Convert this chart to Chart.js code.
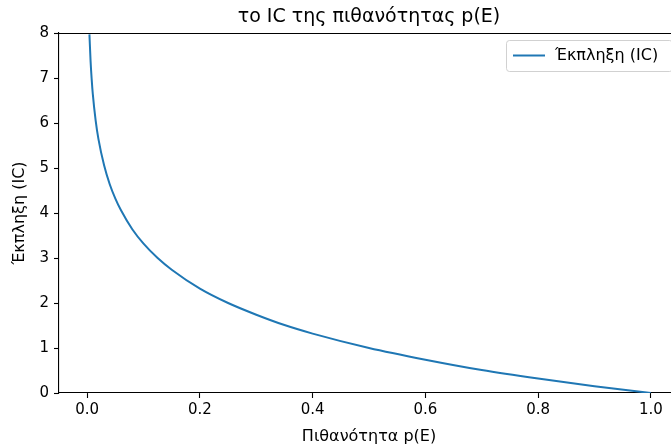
<!DOCTYPE html>
<html>
<head>
<meta charset="utf-8">
<script src="https://cdn.jsdelivr.net/npm/chart.js@4"></script>
<style>
  html, body { margin: 0; padding: 0; background: #fff; overflow: hidden; }
  #wrap { width: 680px; height: 447px; }
</style>
</head>
<body>
<div id="wrap"><canvas id="chartIC" width="680" height="447"></canvas></div>
<script>
// values
const probValues = [0.004, 0.006, 0.008, 0.01, 0.015, 0.02, 0.03, 0.04, 0.05, 0.06, 0.08, 0.1, 0.125, 0.15, 0.2, 0.25, 0.3, 0.35, 0.4, 0.5, 0.6, 0.7, 0.8, 0.9, 1.0];
const icValues   = [7.97, 7.38, 6.97, 6.64, 6.06, 5.64, 5.06, 4.64, 4.32, 4.06, 3.64, 3.32, 3.0, 2.74, 2.32, 2.0, 1.74, 1.51, 1.32, 1.0, 0.74, 0.51, 0.32, 0.15, 0.0];
const xTicks = [0.0, 0.2, 0.4, 0.6, 0.8, 1.0];
const yTicks = [0, 1, 2, 3, 4, 5, 6, 7, 8];

const titleText = 'το IC της πιθανότητας p(E)';
const seriesLabel = 'Έκπληξη (IC)';
const lineColor = '#1f77b4';
const FONT = "'DejaVu Sans', sans-serif";

// title, top/right spines and in-plot legend (matplotlib style)
const frameDecor = {
  id: 'frameDecor',
  afterDraw(chart) {
    const { ctx, chartArea: a } = chart;
    ctx.save();
    ctx.strokeStyle = '#000';
    ctx.lineWidth = 1.1;
    ctx.beginPath();
    ctx.moveTo(a.left, a.top + 0.5);
    ctx.lineTo(a.right, a.top + 0.5);
    ctx.moveTo(a.right - 0.5, a.top);
    ctx.lineTo(a.right - 0.5, a.bottom);
    ctx.stroke();

    ctx.fillStyle = '#000';
    ctx.font = '19px ' + FONT;
    ctx.textAlign = 'center';
    ctx.textBaseline = 'middle';
    ctx.fillText(titleText, (a.left + a.right) / 2, 17);

    // legend box
    const bx = a.left + 447, by = a.top + 7, bw = 166, bh = 31;
    ctx.fillStyle = 'rgba(255,255,255,0.8)';
    ctx.strokeStyle = 'rgba(204,204,204,0.9)';
    ctx.lineWidth = 1;
    ctx.beginPath();
    ctx.roundRect(bx + 0.5, by + 0.5, bw, bh, 3);
    ctx.fill();
    ctx.stroke();
    ctx.strokeStyle = lineColor;
    ctx.lineWidth = 2;
    ctx.beginPath();
    ctx.moveTo(bx + 7, by + 15.5);
    ctx.lineTo(bx + 39, by + 15.5);
    ctx.stroke();
    ctx.fillStyle = '#000';
    ctx.font = '16px ' + FONT;
    ctx.textAlign = 'left';
    ctx.fillText(seriesLabel, bx + 49, by + 16);
    ctx.restore();
  }
};

new Chart(document.getElementById('chartIC'), {
  type: 'line',
  data: {
    datasets: [{
      label: seriesLabel,
      data: probValues.map((p, i) => ({ x: p, y: icValues[i] })),
      borderColor: lineColor,
      borderWidth: 2,
      pointRadius: 0,
      fill: false,
      cubicInterpolationMode: 'monotone'
    }]
  },
  options: {
    responsive: false,
    animation: false,
    devicePixelRatio: 1,
    layout: { padding: { top: 33, right: 1, left: 0, bottom: 0 } },
    plugins: {
      legend: { display: false },
      title: { display: false },
      tooltip: { enabled: false }
    },
    scales: {
      x: {
        type: 'linear',
        min: -0.05,
        max: 1.05,
        afterBuildTicks: s => { s.ticks = xTicks.map(v => ({ value: v })); },
        afterFit: s => { s.height = 54; },
        border: { color: '#000', width: 1.1 },
        grid: { drawOnChartArea: false, tickLength: 5, tickColor: '#000', tickWidth: 1.1 },
        ticks: {
          color: '#000', padding: 3, maxRotation: 0,
          font: { family: FONT, size: 15 },
          callback: v => v.toFixed(1)
        },
        title: {
          display: true, text: 'Πιθανότητα p(E)', color: '#000',
          font: { family: FONT, size: 16 }, padding: { top: 0, bottom: 1 }
        }
      },
      y: {
        min: 0,
        max: 8,
        afterBuildTicks: s => { s.ticks = yTicks.map(v => ({ value: v })); },
        afterFit: s => { s.width = 59; },
        border: { color: '#000', width: 1.1 },
        grid: { drawOnChartArea: false, tickLength: 5, tickColor: '#000', tickWidth: 1.1 },
        ticks: {
          color: '#000', padding: 5,
          font: { family: FONT, size: 15 }
        },
        title: {
          display: true, text: 'Έκπληξη (IC)', color: '#000',
          font: { family: FONT, size: 16 }, padding: { top: 10, bottom: 0 }
        }
      }
    }
  },
  plugins: [frameDecor]
});
</script>
</body>
</html>
